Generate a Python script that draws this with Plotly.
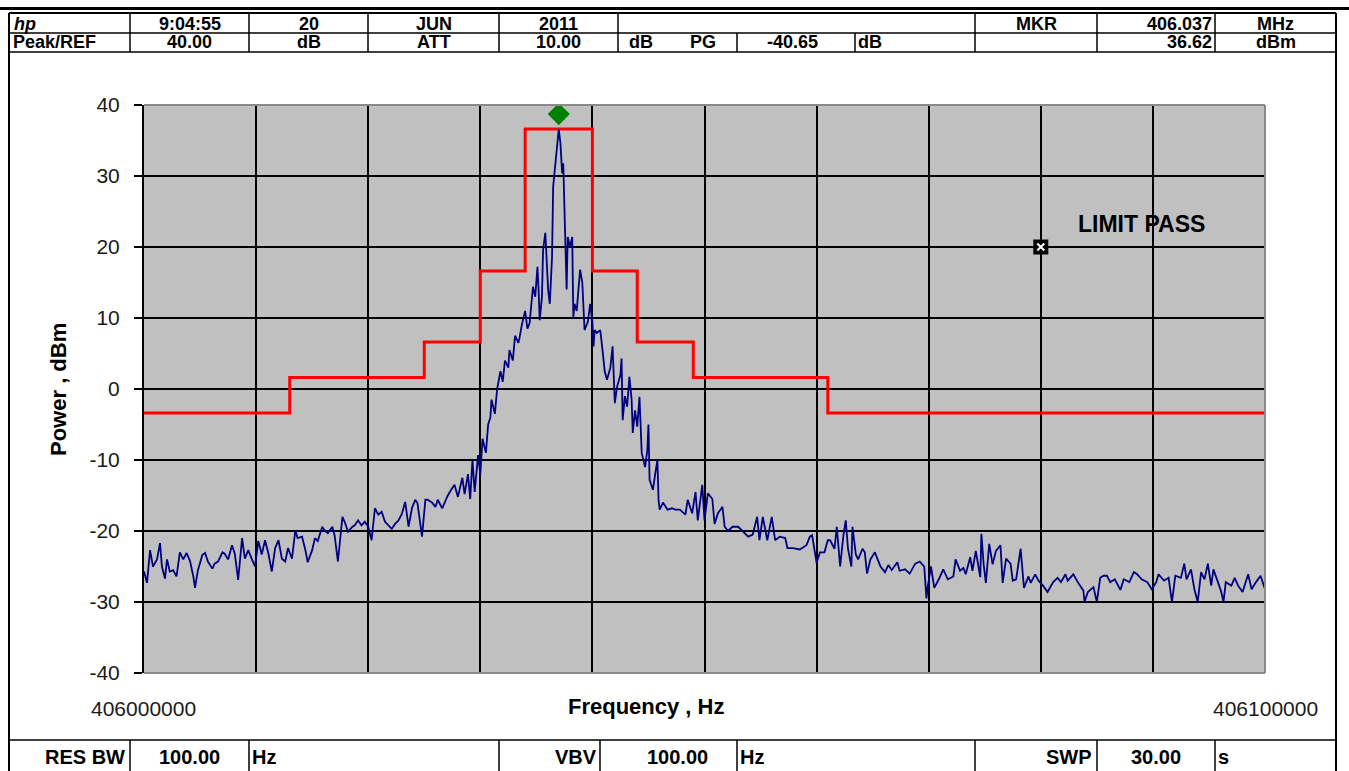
import numpy as np
import plotly.graph_objects as go

# ---------------------------------------------------------------- data
START_HZ = 406000000
STOP_HZ = 406100000

# measured sweep: offset from start frequency (kHz) and power (dBm)
sweep_khz = [
    0.00, 0.27, 0.54, 0.80, 1.16, 1.43, 1.60, 1.87, 2.05, 2.30, 2.60, 2.90, 3.20, 3.50, 3.80, 4.10,
    4.40, 4.55, 4.80, 5.20, 5.45, 5.70, 6.10, 6.30, 6.60, 7.00, 7.20, 7.50, 7.85, 8.10, 8.40, 8.75,
    9.00, 9.30, 9.60, 9.90, 10.20, 10.50, 10.80, 11.10, 11.40, 11.70, 12.00, 12.30, 12.60, 12.85,
    13.20, 13.50, 13.70, 14.10, 14.40, 14.60, 15.00, 15.25, 15.50, 15.90, 16.10, 16.40, 16.80, 17.00,
    17.30, 17.70, 17.90, 18.20, 18.60, 18.80, 19.10, 19.40, 19.70, 20.00, 20.30, 20.60, 20.90, 21.20,
    21.50, 21.80, 22.10, 22.40, 22.70, 23.00, 23.30, 23.60, 23.90, 24.20, 24.40, 24.80, 25.10, 25.30,
    25.70, 26.00, 26.20, 26.60, 26.90, 27.10, 27.40, 27.70, 28.00, 28.40, 28.60, 28.90, 29.10, 29.30,
    29.50, 29.80, 30.00, 30.20, 30.50, 30.70, 30.90, 31.00, 31.30, 31.50, 31.80, 32.00, 32.20, 32.50,
    32.60, 32.90, 33.10, 33.40, 33.50, 33.70, 34.00, 34.20, 34.40, 34.70, 34.90, 35.10, 35.20, 35.30,
    35.50, 35.60, 35.80, 35.95, 36.05, 36.20, 36.40, 36.50, 36.70, 36.80, 37.00, 37.15, 37.30, 37.40,
    37.60, 37.70, 37.80, 38.00, 38.20, 38.30, 38.40, 38.60, 38.90, 39.10, 39.30, 39.60, 39.80, 40.00,
    40.10, 40.20, 40.40, 40.70, 40.90, 41.10, 41.30, 41.60, 41.80, 42.00, 42.20, 42.50, 42.60, 42.70,
    42.90, 43.10, 43.30, 43.50, 43.60, 43.80, 44.00, 44.20, 44.40, 44.70, 44.90, 45.00, 45.10, 45.40,
    45.60, 45.80, 45.90, 46.00, 46.30, 46.70, 47.10, 47.40, 47.80, 48.30, 48.50, 48.90, 49.20, 49.40,
    49.80, 50.00, 50.30, 50.70, 50.90, 51.20, 51.60, 51.80, 52.10, 52.50, 53.00, 53.40, 53.90, 54.30,
    54.70, 54.90, 55.20, 55.60, 56.00, 56.30, 56.70, 57.20, 57.40, 57.90, 58.50, 59.10, 59.40, 59.60,
    60.00, 60.30, 60.70, 61.00, 61.20, 61.60, 61.80, 62.10, 62.40, 62.60, 62.80, 63.10, 63.20, 63.50,
    63.70, 64.10, 64.30, 64.50, 64.80, 65.20, 65.70, 66.10, 66.40, 66.70, 67.20, 67.40, 67.90, 68.30,
    68.80, 69.20, 69.60, 69.80, 69.90, 70.20, 70.50, 70.90, 71.30, 71.70, 72.20, 72.40, 72.80, 73.10,
    73.30, 73.70, 73.90, 74.20, 74.60, 74.70, 74.90, 75.10, 75.40, 75.70, 76.00, 76.40, 76.60, 76.90,
    77.30, 77.50, 77.80, 78.20, 78.50, 78.90, 79.10, 79.50, 79.80, 80.20, 80.60, 81.10, 81.50, 81.80,
    82.20, 82.40, 82.90, 83.30, 83.80, 83.90, 84.20, 84.70, 85.00, 85.30, 85.60, 85.90, 86.20, 86.60,
    87.10, 87.40, 87.90, 88.30, 88.60, 89.00, 89.50, 89.90, 90.30, 90.50, 91.00, 91.40, 91.70, 92.00,
    92.50, 92.80, 93.00, 93.40, 93.70, 94.00, 94.30, 94.60, 94.90, 95.20, 95.40, 95.80, 96.10, 96.30,
    96.50, 97.00, 97.30, 97.60, 98.00, 98.50, 98.80, 99.20, 99.60, 100.00,
]
power_dbm = [
    -25.7, -27.3, -22.7, -25.0, -24.0, -21.7, -25.0, -26.7, -24.0, -25.7, -25.5, -26.4, -23.0, -24.0, -23.1, -24.2,
    -26.4, -28.0, -25.6, -23.4, -23.1, -24.3, -25.3, -24.6, -24.3, -23.0, -23.2, -24.0, -22.0, -23.2, -26.9, -21.0,
    -23.9, -22.7, -23.9, -25.0, -21.4, -23.3, -21.3, -23.2, -25.7, -22.4, -21.3, -23.9, -24.3, -22.4,
    -23.9, -19.9, -21.0, -20.8, -22.7, -24.4, -22.7, -21.0, -21.4, -19.4, -19.9, -20.3, -19.4, -20.6,
    -24.3, -18.0, -18.7, -20.1, -19.4, -19.2, -18.5, -19.2, -18.7, -19.4, -21.3, -16.8, -17.7, -17.3,
    -18.7, -19.2, -19.7, -19.0, -18.5, -17.6, -15.9, -19.4, -16.8, -15.6, -16.1, -20.8, -15.6, -15.6,
    -16.0, -16.6, -15.6, -16.8, -15.6, -15.0, -14.2, -13.5, -15.2, -12.5, -14.8, -12.0, -15.5, -10.0,
    -14.5, -9.3, -12.0, -7.0, -9.0, -5.0, -4.0, -1.5, -3.5, 0.0, 2.5, 1.0, 4.0, 3.0,
    5.5, 4.0, 7.5, 6.5, 7.2, 9.0, 11.0, 8.5, 9.3, 14.4, 13.0, 17.2, 14.0, 9.7,
    13.0, 19.6, 22.0, 17.0, 14.0, 12.0, 18.6, 28.5, 31.8, 34.0, 36.62, 34.6, 30.4, 31.8,
    22.0, 14.0, 21.4, 20.0, 21.4, 10.0, 12.0, 11.0, 16.8, 15.0, 8.3, 9.5, 12.0, 9.5,
    6.0, 8.3, 7.9, 8.3, 5.5, 2.5, 1.3, 3.0, 6.0, -2.0, 0.3, 2.0, 4.3, -4.4,
    -1.0, -2.5, 1.7, -1.5, -6.2, -3.0, -5.3, -1.1, -9.0, -11.0, -8.6, -5.0, -12.8, -14.2,
    -12.0, -10.0, -15.6, -17.0, -16.0, -17.0, -16.8, -17.0, -17.0, -17.7, -15.6, -17.5, -14.5, -18.5,
    -13.5, -18.5, -14.7, -15.5, -19.0, -17.5, -16.6, -19.4, -20.0, -19.4, -19.4, -20.0, -20.8, -20.5,
    -18.0, -21.3, -18.0, -21.3, -18.0, -21.3, -20.8, -21.0, -22.4, -22.4, -22.6, -22.0, -20.8, -20.6,
    -24.5, -23.0, -23.0, -21.3, -21.3, -22.5, -19.4, -25.0, -20.5, -18.5, -22.5, -25.0, -19.4, -23.3,
    -24.0, -22.5, -23.0, -26.0, -24.0, -23.0, -25.0, -25.8, -24.8, -25.5, -24.4, -25.6, -25.4, -26.0,
    -24.6, -24.3, -25.0, -29.5, -28.0, -25.0, -28.0, -26.8, -25.4, -26.8, -26.4, -24.0, -25.6, -25.2,
    -26.1, -23.7, -25.6, -22.8, -26.5, -20.4, -24.7, -27.3, -21.8, -24.7, -22.8, -22.0, -27.3, -23.9,
    -24.6, -27.0, -26.8, -22.5, -28.0, -26.4, -27.3, -26.1, -27.0, -27.7, -28.6, -27.2, -26.6, -27.2,
    -26.1, -27.0, -26.1, -27.2, -28.4, -30.0, -28.6, -27.9, -30.0, -26.6, -26.3, -26.3, -27.2, -26.8,
    -28.3, -26.8, -27.2, -25.8, -26.1, -26.8, -27.2, -28.2, -27.2, -26.1, -27.0, -26.6, -30.0, -26.3,
    -26.6, -24.6, -26.8, -25.4, -28.2, -30.0, -25.8, -26.8, -24.6, -27.7, -25.4, -27.2, -28.6, -30.0,
    -27.2, -27.7, -26.6, -27.7, -28.6, -26.1, -28.2, -27.2, -26.3, -28.2,
]

# limit mask: breakpoints (kHz offset) and levels (dBm), stepped
limit_khz = [0, 13, 25, 30, 34, 40, 44, 49, 61, 100]
limit_dbm = [-3.38, 1.62, 6.62, 16.62, 36.62, 16.62, 6.62, 1.62, -3.38, -3.38]

# marker readout
mkr_hz = 406037000
mkr_dbm = 36.62

# limit verdict flag
verdict_hz = 406080000
verdict_dbm = 20
verdict_text = "LIMIT PASS"

y_ticks = [-40, -30, -20, -10, 0, 10, 20, 30, 40]
y_tick_text = ["-40", "-30", "-20", "-10", "0", "10", "20", "30", "40"]
x_grid_khz = [10, 20, 30, 40, 50, 60, 70, 80, 90]

header_row1 = ["hp", "9:04:55", "20", "JUN", "2011", "MKR", "406.037", "MHz"]
header_row2 = ["Peak/REF", "40.00", "dB", "ATT", "10.00", "dB", "PG", "-40.65", "dB", "36.62", "dBm"]
footer_row = ["RES BW", "100.00", "Hz", "VBV", "100.00", "Hz", "SWP", "30.00", "s"]

# ---------------------------------------------------------------- figure
W, H = 1349, 771
PL, PR, PT, PB = 144, 1265, 105, 673  # plot area in pixels


def px(x):
    return (x - PL) / (PR - PL)


def py(y):
    return (PB - y) / (PB - PT)


freq_hz = START_HZ + 1000 * np.array(sweep_khz)
limit_hz = START_HZ + 1000 * np.array(limit_khz)

fig = go.Figure()

fig.add_trace(go.Scatter(
    x=limit_hz, y=limit_dbm, mode="lines", line=dict(color="#FF0000", width=3, shape="hv"),
    hoverinfo="skip", showlegend=False))

fig.add_trace(go.Scatter(
    x=freq_hz, y=power_dbm, mode="lines", line=dict(color="#000080", width=1.8),
    showlegend=False))

# peak marker sits just above the measured peak
fig.add_trace(go.Scatter(
    x=[mkr_hz], y=[mkr_dbm + 2.1], mode="markers",
    marker=dict(symbol="diamond", size=17, color="#008000", line=dict(width=0)),
    showlegend=False))

fig.add_trace(go.Scatter(
    x=[verdict_hz], y=[verdict_dbm], mode="markers",
    marker=dict(symbol="square", size=15, color="#000000", line=dict(width=0)),
    showlegend=False))
fig.add_trace(go.Scatter(
    x=[verdict_hz], y=[verdict_dbm], mode="markers",
    marker=dict(symbol="x-thin", size=7, line=dict(color="#FFFFFF", width=2)),
    showlegend=False))

fig.update_xaxes(
    range=[START_HZ, STOP_HZ], showticklabels=False, ticks="", showgrid=False, zeroline=False,
    showline=False,
    minor=dict(tickmode="array", tickvals=list(START_HZ + 1000 * np.array(x_grid_khz)),
               showgrid=True, gridcolor="#000000", gridwidth=2, ticks=""))
fig.update_yaxes(
    range=[-40, 40], tickmode="array", tickvals=y_ticks, ticktext=y_tick_text,
    showgrid=False, zeroline=False,
    showline=True, linecolor="#000000", linewidth=2,
    ticks="outside", ticklen=8, tickwidth=2, tickcolor="#000000", ticklabelstandoff=10,
    tickfont=dict(family="Liberation Sans, Arial", size=21, color="#1a1a1a"),
    minor=dict(tickmode="array", tickvals=y_ticks[1:-1], showgrid=True,
               gridcolor="#000000", gridwidth=2, ticks=""))

shapes = []


def hline(y, x0, x1, w=1.5, color="#000000"):
    shapes.append(dict(type="line", xref="paper", yref="paper", x0=px(x0), x1=px(x1),
                       y0=py(y), y1=py(y), line=dict(color=color, width=w)))


def vline(x, y0, y1, w=1.5, color="#000000"):
    shapes.append(dict(type="line", xref="paper", yref="paper", x0=px(x), x1=px(x),
                       y0=py(y0), y1=py(y1), line=dict(color=color, width=w)))


# plot frame (left side is the black value axis)
hline(PT, PL, PR, 2, "#8a8a8a")
hline(PB, PL, PR, 2, "#8a8a8a")
vline(PR, PT, PB, 2, "#8a8a8a")

# instrument header / footer grid
hline(8.5, 0, W, 3)
hline(13, 9, 1336, 2)
hline(33, 9, 1336)
hline(52, 9, 1336)
hline(740, 9, 1336)
vline(9, 13, H + 2, 2)
vline(1336, 13, H + 2, 2)
for x in [130, 249, 368, 499, 618, 975, 1097, 1215]:
    vline(x, 13, 33)
for x in [130, 249, 368, 499, 618, 737, 855, 975, 1097, 1215]:
    vline(x, 33, 52)
for x in [130, 249, 499, 600, 737, 975, 1097, 1215]:
    vline(x, 740, H + 2)

annotations = []
HFONT = "Liberation Sans, Arial"


def label(text, x, y, anchor="center", size=21, bold=True, color="#000000", angle=0, italic=False):
    annotations.append(dict(
        text=text, xref="paper", yref="paper", x=px(x), y=py(y), xanchor=anchor, yanchor="middle",
        showarrow=False, textangle=angle, borderpad=0,
        font=dict(family=HFONT, size=size, color=color, weight="bold" if bold else "normal",
                  style="italic" if italic else "normal")))


r1x = [(13, "left"), (189.5, "center"), (308.5, "center"), (433.5, "center"), (558.5, "center"),
       (1036, "center"), (1213, "right"), (1275.5, "center")]
for t, (x, a) in zip(header_row1, r1x):
    label(t, x, 23.5, a, size=18, italic=(t == "hp"))

r2x = [(12, "left"), (189.5, "center"), (308.5, "center"), (433.5, "center"), (558.5, "center"),
       (628, "left"), (717, "right"), (792, "center"), (857, "left"), (1213, "right"), (1275.5, "center")]
for t, (x, a) in zip(header_row2, r2x):
    label(t, x, 42.5, a, size=18)

fx = [(126, "right"), (189.5, "center"), (251, "left"), (598, "right"), (677, "center"),
      (739, "left"), (1093, "right"), (1156, "center"), (1217, "left")]
for t, (x, a) in zip(footer_row, fx):
    label(t, x, 757, a, size=20)

# axis titles and end-frequency labels
label("Power , dBm", 58, 390, size=22, angle=-90)
label("Frequency , Hz", 646, 706, size=22)
label(str(START_HZ), 143, 708, size=21, bold=False, color="#1a1a1a")
label(str(STOP_HZ), 1265, 708, size=21, bold=False, color="#1a1a1a")
label(verdict_text, 1077, 224, anchor="left", size=23)

fig.update_layout(
    width=W, height=H, margin=dict(l=PL, r=W - PR, t=PT, b=H - PB),
    paper_bgcolor="#FFFFFF", plot_bgcolor="#C0C0C0",
    shapes=shapes, annotations=annotations, showlegend=False,
)

fig.write_html("out.html")
